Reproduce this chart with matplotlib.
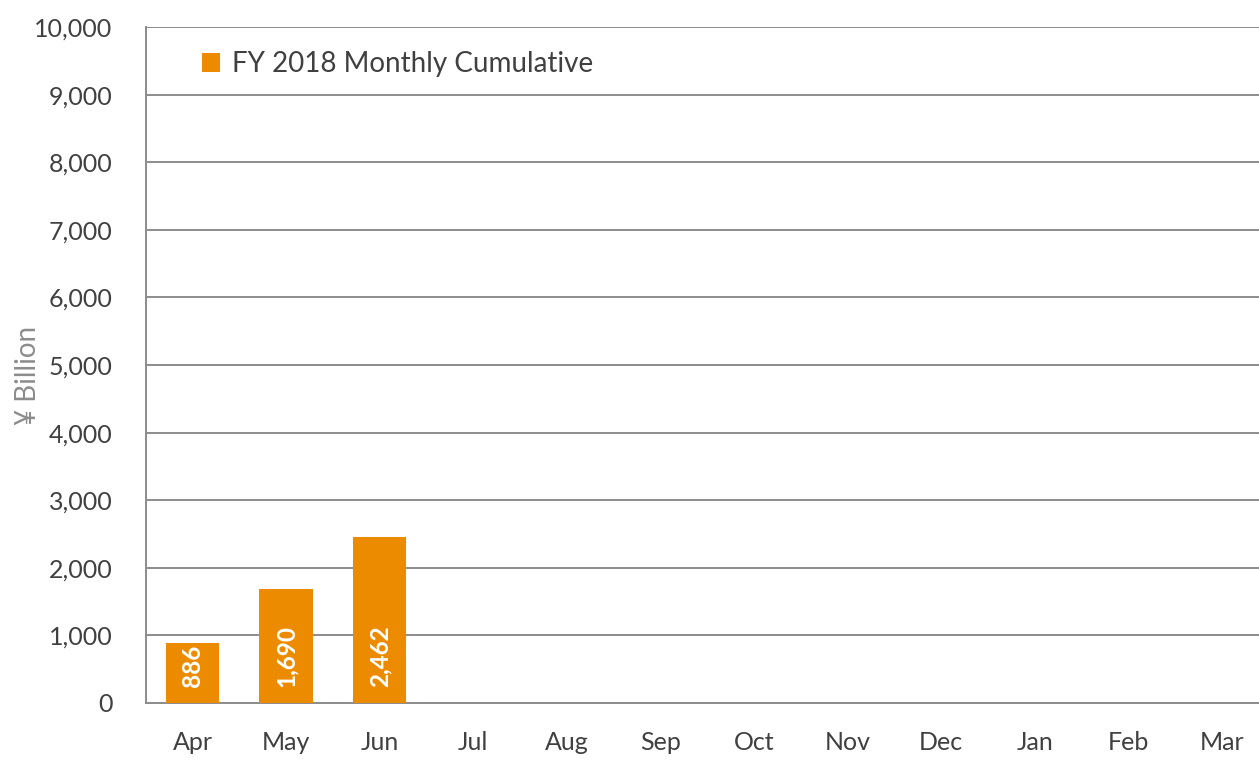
import matplotlib.pyplot as plt
import numpy as np

# FY 2018 monthly cumulative values (yen billion)
months = ['Apr', 'May', 'Jun', 'Jul', 'Aug', 'Sep', 'Oct', 'Nov', 'Dec', 'Jan', 'Feb', 'Mar']
values = [886, 1690, 2462]
series_name = 'FY 2018 Monthly Cumulative'
y_ticks = list(range(0, 10001, 1000))

plt.rcParams['font.family'] = ['Lato', 'DejaVu Sans']

fig = plt.figure(figsize=(12.59, 7.72), dpi=100)
ax = fig.add_axes([0.1157, 0.0894, 0.892, 0.8756])

x = np.arange(len(months))
bars = ax.bar(x[:len(values)], values, width=0.57, color='#ed8b00',
              label=series_name, zorder=3)

# value labels inside the bars, rotated, near the base
for xi, v in zip(x, values):
    ax.annotate(f'{v:,}', (xi, 0), xytext=(0, 11.5), textcoords='offset points',
                rotation=90, ha='center', va='bottom', color='white',
                fontsize=17.5, fontweight='bold', zorder=4)

ax.set_xlim(-0.5, len(months) - 0.5)
ax.set_ylim(0, 10000)
ax.set_xticks(x)
ax.set_xticklabels(months)
ax.set_yticks(y_ticks)
ax.set_yticklabels([f'{t:,}' for t in y_ticks])
ax.tick_params(axis='both', length=0, labelsize=18, colors='#404040')
ax.tick_params(axis='x', pad=20)
ax.tick_params(axis='y', pad=24)

ax.grid(axis='y', color='#8c8c8c', linewidth=1.4, zorder=0)
for s in ['top', 'right']:
    ax.spines[s].set_visible(False)
for s in ['left', 'bottom']:
    ax.spines[s].set_color('#8c8c8c')
    ax.spines[s].set_linewidth(1.4)

ax.set_ylabel('¥ Billion', fontsize=20, color='#8c8c8c')
ax.yaxis.set_label_coords(-0.093, 0.485)

leg = ax.legend(loc='upper left', bbox_to_anchor=(0.03, 0.997), frameon=True,
                fontsize=20, handlelength=0.65, handleheight=0.65,
                handletextpad=0.45, borderpad=0.3)
leg.get_frame().set_facecolor('white')
leg.get_frame().set_edgecolor('white')
leg.get_frame().set_alpha(1)
for t in leg.get_texts():
    t.set_color('#404040')

fig.savefig('out.png', dpi=100)
